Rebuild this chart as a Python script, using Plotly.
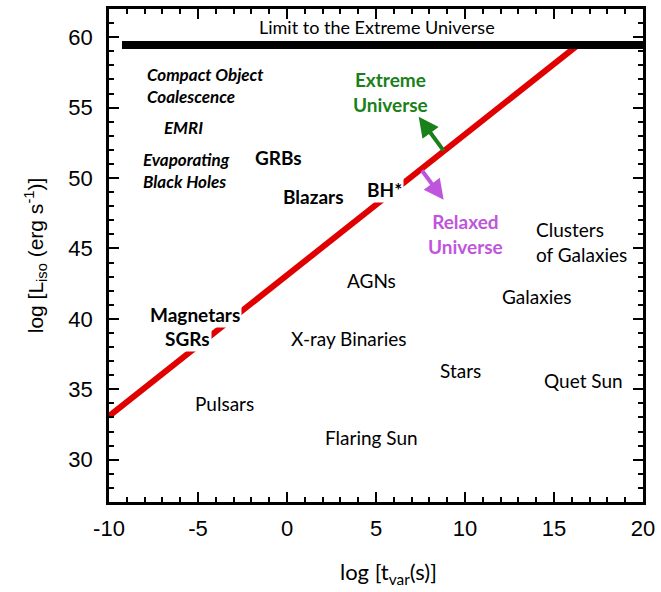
import plotly.graph_objects as go

# ---- data ----
x_ticks = [-10, -5, 0, 5, 10, 15, 20]
x_ticktext = ["-10", "-5", "0", "5", "10", "15", "20"]
y_ticks = [30, 35, 40, 45, 50, 55, 60]
y_ticktext = ["30", "35", "40", "45", "50", "55", "60"]

# dividing line between relaxed and extreme universe
line_t = [-10.0, 16.3]
line_L = [33.1, 59.4]

# limit to the extreme universe
limit_t = [-9.27, 20.0]
limit_L = [59.45, 59.45]
limit_label = "Limit to the Extreme Universe"
limit_label_pos = (5.05, 60.75)

# source classes (plain text)
plain_labels = ["AGNs", "Galaxies", "X-ray Binaries", "Stars", "Quet Sun", "Pulsars", "Flaring Sun"]
plain_x = [4.72, 14.0, 3.49, 9.75, 16.64, -3.5, 4.77]
plain_y = [42.75, 41.62, 38.6, 36.33, 35.63, 34.0, 31.6]

clusters_labels = ["Clusters", "of Galaxies"]
clusters_x = [13.9, 13.9]
clusters_y = [46.35, 44.6]

# bold labels
bold_labels = ["GRBs", "Blazars"]
bold_x = [-0.49, 1.5]
bold_y = [51.45, 48.68]

# bold labels lying over the dividing line
over_labels = ["BH*", "Magnetars", "SGRs"]
over_x = [5.45, -5.19, -5.58]
over_y = [49.18, 40.3, 38.6]

# italic bold labels (left aligned)
ital_labels = ["Compact Object", "Coalescence", "Evaporating", "Black Holes"]
ital_x = [-7.98, -7.98, -8.22, -8.22]
ital_y = [57.33, 55.78, 51.33, 49.78]
emri_label = "EMRI"
emri_pos = (-5.8, 53.6)

extreme_label = "Extreme<br>Universe"
extreme_pos = (5.84, 56.1)
extreme_arrow_tail = (8.86, 51.84)
extreme_arrow_head = (7.40, 54.35)

relaxed_label = "Relaxed<br>Universe"
relaxed_pos = (10.05, 46.05)
relaxed_arrow_tail = (7.52, 50.64)
relaxed_arrow_head = (8.80, 48.45)

x_title = "log [t<sub>var</sub>(s)]"
y_title = "log [L<sub>iso</sub> (erg s<sup>-1</sup>)]"

# ---- figure ----
CAL = "Lato, Carlito, Calibri, sans-serif"
ARIAL = "Liberation Sans, Arial, sans-serif"
GREEN = "#1a801a"
PURPLE = "#c055dd"

fig = go.Figure()
fig.add_trace(go.Scatter(x=line_t, y=line_L, mode="lines",
                         line=dict(color="#e00000", width=6), hoverinfo="skip", showlegend=False))
fig.add_trace(go.Scatter(x=limit_t, y=limit_L, mode="lines",
                         line=dict(color="black", width=8), hoverinfo="skip", showlegend=False))

ann = []
ann.append(dict(x=limit_label_pos[0], y=limit_label_pos[1], text=limit_label, showarrow=False,
                font=dict(family=CAL, size=18, color="black")))
for t, x, y in zip(plain_labels, plain_x, plain_y):
    ann.append(dict(x=x, y=y, text=t, showarrow=False, font=dict(family=CAL, size=19, color="black")))
for t, x, y in zip(clusters_labels, clusters_x, clusters_y):
    ann.append(dict(x=x, y=y, text=t, showarrow=False, xanchor="left",
                    font=dict(family=CAL, size=19, color="black")))
for t, x, y in zip(bold_labels, bold_x, bold_y):
    ann.append(dict(x=x, y=y, text="<b>%s</b>" % t, showarrow=False,
                    font=dict(family=CAL, size=19, color="black")))
for t, x, y in zip(over_labels, over_x, over_y):
    ann.append(dict(x=x, y=y, text="<b>%s</b>" % t, showarrow=False, bgcolor="white", borderpad=1,
                    font=dict(family=CAL, size=19, color="black")))
for t, x, y in zip(ital_labels, ital_x, ital_y):
    ann.append(dict(x=x, y=y, text="<b><i>%s</i></b>" % t, showarrow=False, xanchor="left",
                    font=dict(family=CAL, size=17, color="black")))
ann.append(dict(x=emri_pos[0], y=emri_pos[1], text="<b><i>%s</i></b>" % emri_label, showarrow=False,
                font=dict(family=CAL, size=17, color="black")))
ann.append(dict(x=extreme_pos[0], y=extreme_pos[1], text="<b>%s</b>" % extreme_label, showarrow=False,
                font=dict(family=CAL, size=19, color=GREEN)))
ann.append(dict(x=relaxed_pos[0], y=relaxed_pos[1], text="<b>%s</b>" % relaxed_label, showarrow=False,
                font=dict(family=CAL, size=19, color=PURPLE)))
ann.append(dict(x=extreme_arrow_head[0], y=extreme_arrow_head[1], ax=extreme_arrow_tail[0],
                ay=extreme_arrow_tail[1], axref="x", ayref="y", xref="x", yref="y", text="",
                showarrow=True, arrowhead=2, arrowsize=1.0, arrowwidth=4, arrowcolor=GREEN))
ann.append(dict(x=relaxed_arrow_head[0], y=relaxed_arrow_head[1], ax=relaxed_arrow_tail[0],
                ay=relaxed_arrow_tail[1], axref="x", ayref="y", xref="x", yref="y", text="",
                showarrow=True, arrowhead=2, arrowsize=1.0, arrowwidth=4, arrowcolor=PURPLE))
# x-axis title (slightly right of centre, as in the original)
ann.append(dict(x=0.524, y=-0.145, xref="paper", yref="paper", text=x_title, showarrow=False,
                xanchor="center", yanchor="middle", font=dict(family=CAL, size=22, color="black")))

axis_common = dict(showline=True, linecolor="black", linewidth=2.5, mirror="allticks",
                   ticks="inside", ticklen=10, tickwidth=2, tickcolor="black",
                   showgrid=False, zeroline=False,
                   minor=dict(ticks="inside", dtick=1, ticklen=5, tickwidth=2, tickcolor="black", showgrid=False),
                   tickfont=dict(family=ARIAL, size=22, color="black"))

fig.update_layout(
    width=661, height=592,
    margin=dict(l=109, r=16, t=6, b=90),
    paper_bgcolor="white", plot_bgcolor="white",
    showlegend=False,
    annotations=ann,
    xaxis=dict(range=[-10, 20], tickvals=x_ticks, ticktext=x_ticktext, ticklabelstandoff=5,
               **axis_common),
    yaxis=dict(range=[27, 62], tickvals=y_ticks, ticktext=y_ticktext, ticklabelstandoff=9,
               title=dict(text=y_title, font=dict(family=ARIAL, size=21, color="black"), standoff=20),
               **axis_common),
)

fig.write_html("out.html", config={"displayModeBar": False},
               post_script="document.body.style.margin='0';")
